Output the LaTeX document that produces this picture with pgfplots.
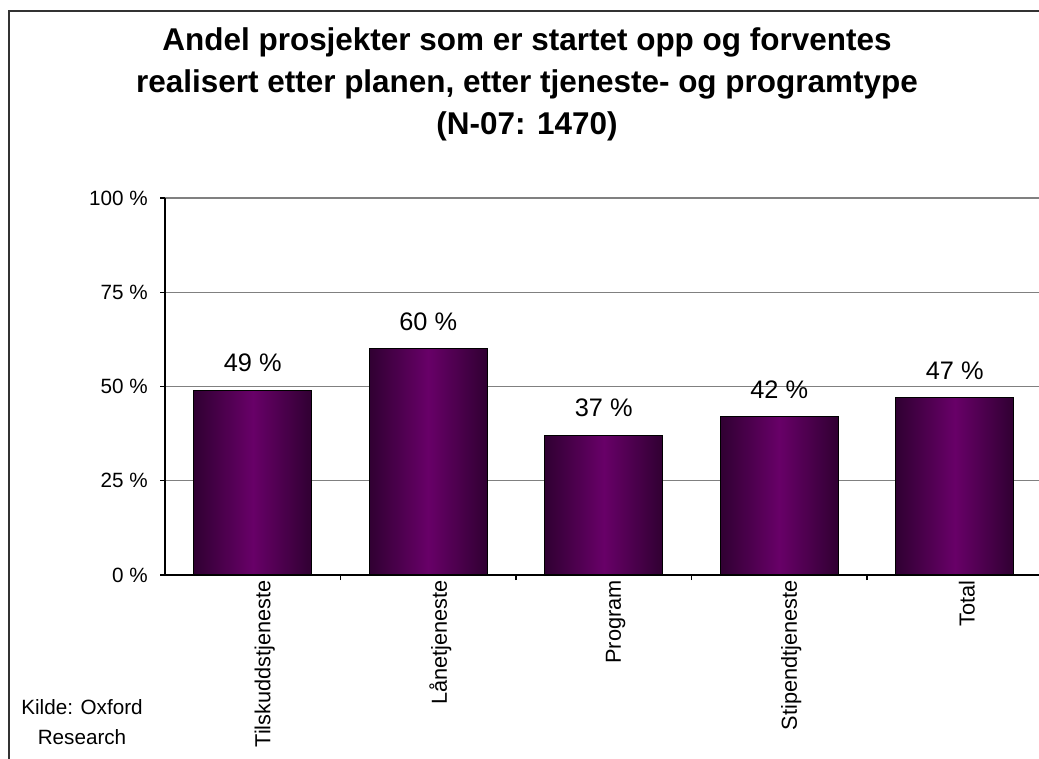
\documentclass[border=0pt]{standalone}
\usepackage{fontspec}
\setmainfont{Liberation Sans}
\usepackage{pgfplots}
\pgfplotsset{compat=1.18}
\definecolor{bardark}{RGB}{48,0,50}
\definecolor{barbright}{RGB}{104,0,104}
\pgfplotsset{mybar/.style={ybar, bar width=0.672, draw=black, line width=1pt,
  left color=bardark, right color=bardark, middle color=barbright}}
\begin{document}
\begin{tikzpicture}[x=0.75pt,y=0.75pt]
\useasboundingbox (0,0) rectangle (1039,758);
\clip (0,0) rectangle (1039,758);
\begin{axis}[
  at={(123.75pt,137.25pt)}, anchor=south west,
  scale only axis, width=655.5pt, height=282.75pt,
  xmin=-0.5, xmax=4.48, ymin=0, ymax=100,
  axis x line*=bottom, axis y line*=left,
  axis line style={black, line width=0.8pt},
  ytick={0,25,50,75,100},
  yticklabels={0 \%,25 \%,50 \%,75 \%,100 \%},
  ymajorgrids, grid style={gray, line width=0.8pt},
  xtick={0,1,2,3,4},
  xticklabels={Tilskuddstjeneste,Lånetjeneste,Program,Stipendtjeneste,Total},
  minor xtick={0.5,1.5,2.5,3.5},
  major x tick style={draw=none},
  minor x tick style={black, line width=0.8pt},
  tick align=outside, major tick length=3.75pt, minor tick length=3.75pt,
  y tick style={black, line width=0.8pt},
  yticklabel style={font=\fontsize{15.5}{18}\selectfont, inner sep=0pt, xshift=-9pt},
  xticklabel style={font=\fontsize{16.3}{18}\selectfont, rotate=90, anchor=east, inner sep=0pt, yshift=-9pt},
  /pgf/number format/assume math mode=true,
  nodes near coords={\pgfmathprintnumber{\pgfplotspointmeta} \%},
  nodes near coords style={font=\fontsize{19}{21}\selectfont, anchor=south, yshift=10pt},
  clip=false,
]
\addplot[mybar] coordinates {(0,49)};
\addplot[mybar] coordinates {(1,60)};
\addplot[mybar] coordinates {(2,37)};
\addplot[mybar] coordinates {(3,42)};
\addplot[mybar] coordinates {(4,47)};
\end{axis}
\node[font=\fontsize{23.6}{31.5}\selectfont\bfseries, align=center] at (527,674)
  {Andel prosjekter som er startet opp og forventes\\realisert etter planen, etter tjeneste- og programtype\\(N-07: 1470)};
\node[font=\fontsize{15.5}{22.5}\selectfont, align=center] at (82,36) {Kilde: Oxford\\Research};
\draw[black!80, line width=0.8pt] (9,-10) -- (9,747) -- (1050,747);
\end{tikzpicture}
\end{document}
